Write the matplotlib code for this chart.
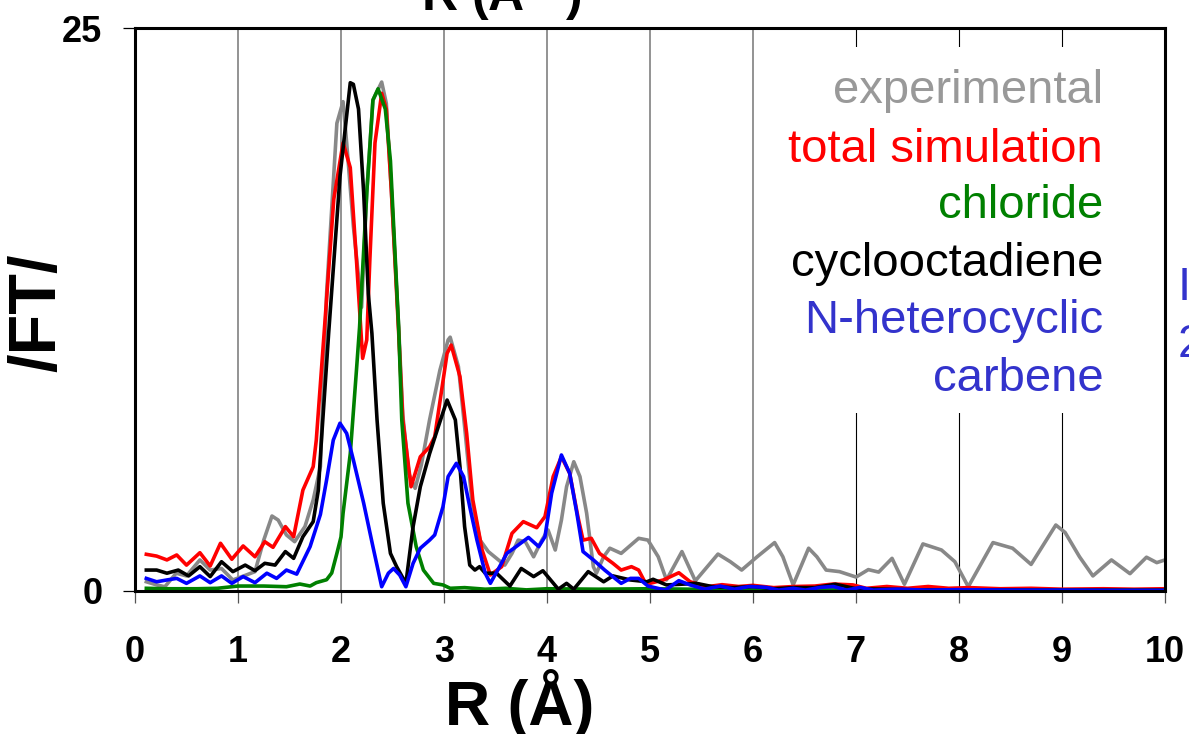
import matplotlib
matplotlib.use("Agg")
import matplotlib.pyplot as plt
from matplotlib.patches import Rectangle

plt.rcParams['font.family'] = ['Liberation Sans', 'DejaVu Sans']
plt.rcParams['mathtext.fontset'] = 'custom'
plt.rcParams['mathtext.rm'] = 'Liberation Sans'
plt.rcParams['mathtext.bf'] = 'Liberation Sans:bold'

# ---- data: R (A) and |FT| ----
r_exp = [0.11, 0.21, 0.29, 0.40, 0.50, 0.63, 0.73, 0.84, 0.95, 1.08, 1.165, 1.25, 1.33, 1.39,
         1.47, 1.55, 1.65, 1.73, 1.80, 1.86, 1.96, 2.02, 2.055, 2.12, 2.20, 2.25, 2.31, 2.395,
         2.44, 2.49, 2.56, 2.60, 2.66, 2.72, 2.78, 2.86, 2.96, 3.04, 3.06, 3.14, 3.20, 3.27,
         3.35, 3.43, 3.51, 3.59, 3.66, 3.72, 3.79, 3.87, 3.95, 4.01, 4.08, 4.14, 4.19, 4.26,
         4.32, 4.385, 4.45, 4.48, 4.55, 4.61, 4.72, 4.89, 4.98, 5.08, 5.16, 5.31, 5.44, 5.66,
         5.78, 5.89, 6.04, 6.21, 6.29, 6.39, 6.54, 6.62, 6.71, 6.84, 7.0, 7.12, 7.22, 7.35,
         7.47, 7.65, 7.83, 7.96, 8.09, 8.33, 8.52, 8.70, 8.94, 9.03, 9.17, 9.30, 9.48, 9.66,
         9.82, 9.92, 10.0]
ft_exp = [0.41, 0.27, 0.19, 0.79, 0.67, 1.38, 0.93, 1.0, 0.49, 0.71, 0.86, 2.26, 3.33, 3.15,
          2.49, 2.19, 2.86, 4.04, 5.52, 13.2, 20.77, 21.73, 19.9, 16.2, 12.6, 17.7, 21.8, 22.6,
          21.65, 17.66, 11.7, 7.8, 5.2, 4.56, 5.6, 7.6, 9.8, 11.15, 11.27, 9.96, 7.3, 4.04,
          2.26, 1.75, 1.45, 1.15, 1.67, 2.26, 2.19, 1.52, 2.26, 2.71, 1.82, 3.15, 4.63, 5.74,
          5.08, 3.45, 1.08, 0.79, 1.52, 1.9, 1.67, 2.34, 2.26, 1.52, 0.49, 1.75, 0.45, 1.64,
          1.30, 0.93, 1.52, 2.15, 1.52, 0.27, 1.9, 1.52, 0.93, 0.86, 0.62, 0.95, 0.84, 1.45,
          0.3, 2.09, 1.82, 1.30, 0.19, 2.15, 1.9, 1.18, 2.93, 2.6, 1.52, 0.67, 1.38, 0.77,
          1.50, 1.26, 1.38]

r_tot = [0.11, 0.21, 0.31, 0.405, 0.50, 0.63, 0.73, 0.83, 0.94, 1.05, 1.165, 1.26, 1.34, 1.46,
         1.54, 1.63, 1.73, 1.76, 1.84, 1.93, 2.02, 2.09, 2.15, 2.21, 2.25, 2.28, 2.33, 2.395,
         2.44, 2.49, 2.56, 2.60, 2.68, 2.77, 2.86, 2.91, 3.03, 3.07, 3.155, 3.22, 3.28, 3.37,
         3.45, 3.56, 3.66, 3.77, 3.90, 3.98, 4.06, 4.14, 4.22, 4.30, 4.35, 4.43, 4.51, 4.64,
         4.72, 4.82, 4.89, 4.95, 5.0, 5.13, 5.28, 5.39, 5.55, 5.70, 5.86, 6.0, 6.2, 6.4, 6.6,
         6.78, 6.97, 7.1, 7.3, 7.5, 7.7, 7.9, 8.1, 8.4, 8.7, 9.0, 9.4, 9.7, 10.0]
ft_tot = [1.63, 1.55, 1.38, 1.6, 1.15, 1.70, 1.11, 2.12, 1.41, 2.0, 1.52, 2.19, 1.94, 2.86,
          2.41, 4.48, 5.52, 6.7, 11.7, 17.4, 19.9, 18.8, 14.7, 10.33, 11.15, 14.7, 19.9, 22.1,
          21.4, 17.7, 11.45, 7.6, 4.63, 5.96, 6.4, 6.85, 10.55, 10.92, 9.52, 7.0, 4.04, 1.82,
          0.71, 1.08, 2.56, 3.08, 2.81, 3.3, 5.08, 5.96, 5.23, 3.3, 2.26, 2.34, 1.67, 1.23,
          0.93, 1.08, 0.93, 0.4, 0.34, 0.49, 0.81, 0.41, 0.19, 0.28, 0.2, 0.25, 0.15, 0.2, 0.22,
          0.31, 0.27, 0.12, 0.2, 0.12, 0.2, 0.12, 0.15, 0.1, 0.12, 0.08, 0.1, 0.08, 0.1]

r_cl = [0.11, 0.3, 0.6, 0.8, 1.0, 1.25, 1.47, 1.6, 1.7, 1.76, 1.86, 1.91, 1.96, 2.0, 2.02,
        2.09, 2.15, 2.18, 2.25, 2.31, 2.36, 2.43, 2.48, 2.52, 2.56, 2.59, 2.65, 2.73, 2.80,
        2.90, 2.99, 3.06, 3.2, 3.4, 3.6, 3.8, 4.0, 4.5, 5.0, 6.0, 7.0, 10.0]
ft_cl = [0.12, 0.1, 0.1, 0.12, 0.22, 0.22, 0.19, 0.31, 0.22, 0.37, 0.5, 0.8, 1.67, 2.4, 3.45,
         6.1, 9.8, 11.7, 17.66, 21.8, 22.3, 21.4, 19.1, 15.4, 11.7, 7.6, 3.9, 1.97, 0.93,
         0.34, 0.27, 0.12, 0.15, 0.08, 0.12, 0.05, 0.1, 0.08, 0.1, 0.05, 0.05, 0.03]

r_cod = [0.11, 0.21, 0.31, 0.42, 0.52, 0.63, 0.73, 0.84, 0.95, 1.07, 1.165, 1.26, 1.36, 1.46,
         1.54, 1.63, 1.73, 1.78, 1.81, 1.88, 1.99, 2.09, 2.12, 2.17, 2.22, 2.265, 2.30, 2.35,
         2.41, 2.48, 2.54, 2.63, 2.70, 2.77, 2.86, 2.945, 3.03, 3.11, 3.155, 3.20, 3.25, 3.30,
         3.345, 3.40, 3.51, 3.64, 3.75, 3.87, 3.96, 4.11, 4.19, 4.26, 4.40, 4.55, 4.64, 4.81,
         4.97, 5.03, 5.16, 5.30, 5.45, 5.6, 5.8, 6.0, 6.2, 6.4, 6.6, 6.8, 7.0, 7.3, 7.6, 8.0,
         9.0, 10.0]
ft_cod = [0.93, 0.93, 0.79, 0.93, 0.67, 1.08, 0.64, 1.30, 0.86, 1.15, 0.9, 1.23, 1.15, 1.75,
          1.45, 2.41, 3.08, 4.48, 6.7, 11.44, 18.4, 22.57, 22.5, 21.4, 17.7, 13.2, 11.44, 7.6,
          3.9, 1.67, 1.08, 0.34, 2.86, 4.63, 6.1, 7.3, 8.48, 7.6, 5.52, 2.86, 1.15, 0.93,
          1.08, 0.79, 0.79, 0.22, 1.0, 0.64, 0.9, 0.08, 0.34, 0.08, 0.86, 0.41, 0.67, 0.49,
          0.41, 0.52, 0.27, 0.3, 0.34, 0.2, 0.15, 0.2, 0.1, 0.15, 0.15, 0.3, 0.1, 0.08, 0.05,
          0.05, 0.03, 0.03]

r_nhc = [0.11, 0.21, 0.31, 0.405, 0.50, 0.63, 0.73, 0.84, 0.94, 1.05, 1.165, 1.28, 1.375,
         1.47, 1.57, 1.70, 1.80, 1.86, 1.925, 1.99, 2.055, 2.12, 2.22, 2.31, 2.395, 2.46, 2.51,
         2.57, 2.63, 2.70, 2.77, 2.86, 2.91, 2.99, 3.04, 3.12, 3.19, 3.25, 3.32, 3.40, 3.45,
         3.53, 3.61, 3.70, 3.82, 3.92, 3.98, 4.045, 4.14, 4.22, 4.29, 4.35, 4.45, 4.56, 4.66,
         4.72, 4.81, 4.89, 4.98, 5.15, 5.28, 5.39, 5.53, 5.68, 5.82, 5.96, 6.13, 6.25, 6.39,
         6.51, 6.65, 6.78, 6.91, 7.04, 7.17, 7.4, 7.7, 8.0, 8.5, 9.0, 9.5, 10.0]
ft_nhc = [0.56, 0.41, 0.49, 0.56, 0.34, 0.67, 0.37, 0.67, 0.34, 0.64, 0.37, 0.79, 0.56,
          0.93, 0.75, 1.97, 3.4, 4.93, 6.7, 7.45, 7.0, 5.82, 3.9, 1.97, 0.19, 0.79, 1.0,
          0.71, 0.19, 1.23, 1.9, 2.26, 2.49, 3.74, 5.08, 5.67, 5.08, 3.74, 2.26, 0.79, 0.34,
          1.0, 1.67, 1.97, 2.38, 1.97, 2.41, 4.34, 6.04, 5.23, 3.45, 1.75, 1.38, 0.93, 0.56,
          0.34, 0.56, 0.56, 0.22, 0.04, 0.46, 0.27, 0.08, 0.22, 0.08, 0.2, 0.16, 0.04, 0.12,
          0.04, 0.16, 0.2, 0.04, 0.16, 0.04, 0.08, 0.04, 0.06, 0.04, 0.04, 0.03, 0.03]

labels = ['experimental', 'total simulation', 'chloride', 'cyclooctadiene',
          'N-heterocyclic', 'carbene']
label_colors = ['#999999', '#ff0000', '#008000', '#000000', '#3333cc', '#3333cc']

W, H = 1189, 734
fig = plt.figure(figsize=(W / 100, H / 100), dpi=100)
ax = fig.add_axes([135 / W, 1 - 591 / H, 1030 / W, 563 / H])

# vertical grid lines, 7-9 are hidden behind the legend box
for gx in range(1, 10):
    if gx <= 6:
        ax.axvline(gx, color='#808080', lw=1.2, zorder=1)
    else:
        ax.axvline(gx, color='#000000', lw=0.8, zorder=1)
ax.add_patch(Rectangle((6.06, 7.9), 3.92, 16.25, facecolor='white', edgecolor='none', zorder=1.5))

lw = 2.6
for rr, ff, c in [(r_exp, ft_exp, '#888888'), (r_tot, ft_tot, '#ff0000'),
                  (r_cl, ft_cl, '#008000'), (r_cod, ft_cod, '#000000'),
                  (r_nhc, ft_nhc, '#0000ff')]:
    ax.plot(rr, ff, color=c, lw=lw, zorder=3, solid_joinstyle='round')

ax.set_xlim(0, 10)
ax.set_ylim(0, 25)
ax.set_xticks(range(0, 11))
ax.set_yticks([0, 25])
ax.tick_params(axis='x', direction='out', length=8.5, width=0.9, color='#555555',
               pad=23, labelsize=26)
ax.tick_params(axis='y', direction='out', length=8.5, width=0.9, color='#000000',
               pad=15, labelsize=26)
for t in ax.get_xticklabels() + ax.get_yticklabels():
    t.set_fontweight('bold')
for s in ax.spines.values():
    s.set_linewidth(2.2)
    s.set_zorder(4)

# legend text, right aligned
baselines = [21.67, 19.05, 16.56, 13.99, 11.46, 8.88]
for txt, c, yb in zip(labels, label_colors, baselines):
    ax.text(9.40, yb, txt, color=c, fontsize=34, ha='right', va='baseline', zorder=5)

# axis titles
fig.text(520 / W, 1 - 725 / H, 'R (Å)', fontsize=45, fontweight='bold',
         ha='center', va='baseline')
fig.text(38 / W, 1 - 313 / H, '/FT/', fontsize=48, fontweight='bold', rotation=90,
         ha='center', va='center')
fig.text(501 / W, 1 - 10 / H, r'R (Å$^{\mathbf{-1}}$)', fontsize=36, fontweight='bold',
         ha='center', va='baseline')

# text cut off at right edge
fig.text(1178 / W, 1 - 300 / H, 'I', color='#3333cc', fontsize=34, va='baseline')
fig.text(1178 / W, 1 - 357 / H, '2', color='#3333cc', fontsize=34, va='baseline')

fig.savefig('out.png', dpi=100)
